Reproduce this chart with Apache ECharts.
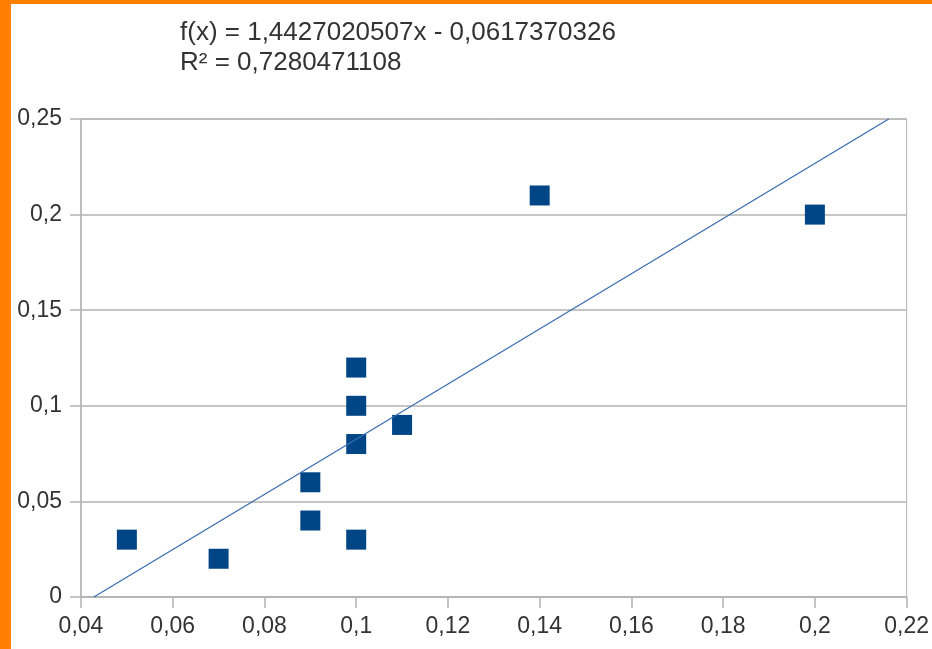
<!DOCTYPE html>
<html>
<head>
<meta charset="utf-8">
<script src="https://cdn.jsdelivr.net/npm/echarts@6/dist/echarts.min.js"></script>
<style>
  html, body { margin: 0; padding: 0; background: #fff; }
  #chart { width: 932px; height: 649px; }
</style>
</head>
<body>
<div id="chart"></div>
<script>
// measured points (x, y)
const xValues = [0.05, 0.07, 0.09, 0.09, 0.1, 0.1, 0.1, 0.1, 0.11, 0.14, 0.2]
const yValues = [0.03, 0.02, 0.06, 0.04, 0.12, 0.1, 0.08, 0.03, 0.09, 0.21, 0.2]

// linear trend line end points
const trendLine = [[0.0428, 0], [0.2161, 0.25]]

const equationText = 'f(x) = 1,4427020507x - 0,0617370326'
const r2Text = 'R² = 0,7280471108'

const points = xValues.map((x, i) => [x, yValues[i]])
const commaFmt = v => String(+v.toFixed(2)).replace('.', ',')

const gridColor = '#b3b3b3'
const textColor = '#333333'
const font = 'Liberation Sans, Arial, sans-serif'

const chart = echarts.init(document.getElementById('chart'), null, { renderer: 'canvas' })

chart.setOption({
  animation: false,
  backgroundColor: '#fff',
  title: {
    text: equationText + '\n' + r2Text,
    left: 180,
    top: 18,
    padding: 0,
    textStyle: {
      fontFamily: font,
      fontSize: 26,
      fontWeight: 'normal',
      color: textColor,
      lineHeight: 30,
    },
  },
  graphic: [
    // orange frame strips
    { type: 'rect', left: 0, top: 0, shape: { width: 11, height: 649 }, style: { fill: '#ff7f00' }, z: 100 },
    { type: 'rect', left: 0, top: 0, shape: { width: 932, height: 4 }, style: { fill: '#ff7f00' }, z: 100 },
  ],
  grid: {
    left: 81,
    right: 25,
    top: 119,
    bottom: 52,
    show: true,
    borderColor: gridColor,
    borderWidth: 1,
  },
  xAxis: {
    type: 'value',
    min: 0.04,
    max: 0.22,
    interval: 0.02,
    axisLine: { show: true, onZero: false, lineStyle: { color: gridColor, width: 1.5 } },
    axisTick: { show: true, length: 11, lineStyle: { color: gridColor, width: 1.5 } },
    splitLine: { show: false },
    axisLabel: {
      margin: 18,
      fontFamily: font,
      fontSize: 23,
      color: textColor,
      formatter: commaFmt,
      showMaxLabel: true,
      showMinLabel: true,
    },
  },
  yAxis: {
    type: 'value',
    min: 0,
    max: 0.25,
    interval: 0.05,
    axisLine: { show: true, lineStyle: { color: gridColor, width: 1.5 } },
    axisTick: { show: true, length: 11, lineStyle: { color: gridColor, width: 1.5 } },
    splitLine: { show: true, lineStyle: { color: gridColor, width: 1.5 } },
    axisLabel: {
      margin: 19,
      fontFamily: font,
      fontSize: 23,
      color: textColor,
      formatter: commaFmt,
    },
  },
  series: [
    {
      type: 'scatter',
      data: points,
      symbol: 'rect',
      symbolSize: 20,
      itemStyle: { color: '#004586', opacity: 1 },
      z: 2,
    },
    {
      type: 'line',
      data: trendLine,
      showSymbol: false,
      symbol: 'none',
      lineStyle: { color: '#3a6eb0', width: 1.3 },
      z: 3,
    },
  ],
})
</script>
</body>
</html>
